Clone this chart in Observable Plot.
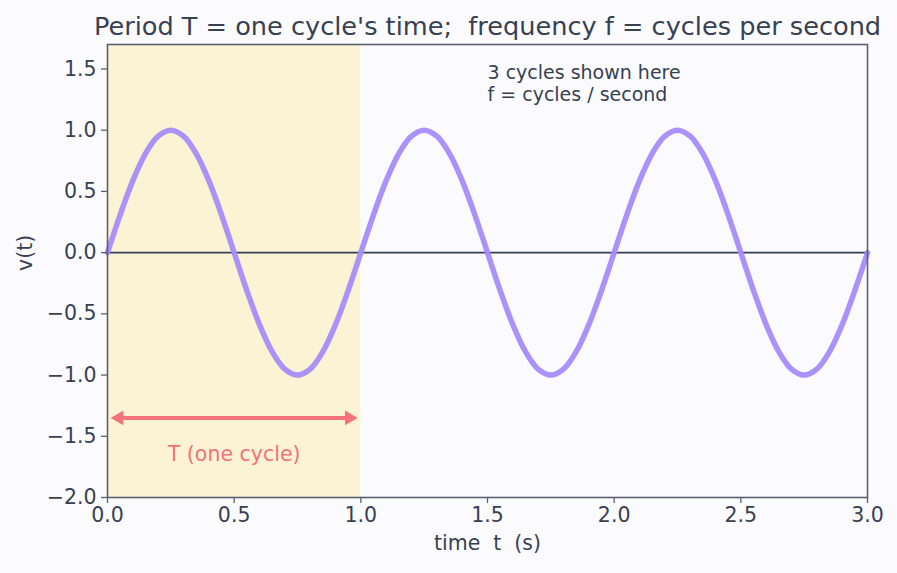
<!DOCTYPE html>
<html>
<head>
<meta charset="utf-8">
<script src="https://cdn.jsdelivr.net/npm/d3@7"></script>
<script src="https://cdn.jsdelivr.net/npm/@observablehq/plot@0.6"></script>
<style>
  html, body { margin: 0; padding: 0; background: #fbfbfe; }
  #chart { width: 897px; height: 573px; }
</style>
</head>
<body>
<div id="chart"></div>
<script>
const times = [0.00,0.05,0.10,0.15,0.20,0.25,0.30,0.35,0.40,0.45,0.50,0.55,0.60,0.65,0.70,0.75,0.80,0.85,0.90,0.95,
               1.00,1.05,1.10,1.15,1.20,1.25,1.30,1.35,1.40,1.45,1.50,1.55,1.60,1.65,1.70,1.75,1.80,1.85,1.90,1.95,
               2.00,2.05,2.10,2.15,2.20,2.25,2.30,2.35,2.40,2.45,2.50,2.55,2.60,2.65,2.70,2.75,2.80,2.85,2.90,2.95,3.00];
const volts = [0,0.309,0.588,0.809,0.951,1,0.951,0.809,0.588,0.309,0,-0.309,-0.588,-0.809,-0.951,-1,-0.951,-0.809,-0.588,-0.309,
               0,0.309,0.588,0.809,0.951,1,0.951,0.809,0.588,0.309,0,-0.309,-0.588,-0.809,-0.951,-1,-0.951,-0.809,-0.588,-0.309,
               0,0.309,0.588,0.809,0.951,1,0.951,0.809,0.588,0.309,0,-0.309,-0.588,-0.809,-0.951,-1,-0.951,-0.809,-0.588,-0.309,0];
const xTicks = [0, 0.5, 1.0, 1.5, 2.0, 2.5, 3.0];
const yTicks = [-2.0, -1.5, -1.0, -0.5, 0.0, 0.5, 1.0, 1.5];
const periodSpan = [0, 1];        // shaded one-period window
const arrowSpan = [0.02, 0.98];   // T arrow extent
const arrowY = -1.35;
const titleText = "Period T = one cycle's time;\u00a0 frequency f = cycles per second";
const noteText = "3 cycles shown here\nf = cycles / second";
const periodLabel = "T (one cycle)";
const xLabel = "time\u00a0 t\u00a0 (s)";
const yLabel = "v(t)";

const signal = times.map((t, i) => ({t, v: volts[i]}));
const fmt = d => (d < 0 ? "\u2212" : "") + Math.abs(d).toFixed(1);
const textColor = "#374151";
const axisColor = "#5b6170";
const arrowColor = "#f4727a";
const font = "DejaVu Sans, sans-serif";

const chart = Plot.plot({
  width: 897,
  height: 573,
  marginLeft: 107,
  marginRight: 30,
  marginTop: 44,
  marginBottom: 76,
  style: {background: "#fbfbfe", fontFamily: font, color: textColor, overflow: "visible"},
  x: {domain: [0, 3]},
  y: {domain: [-2, 1.7]},
  marks: [
    Plot.rectX([periodSpan], {x1: d => d[0], x2: d => d[1], y1: -2, y2: 1.7, fill: "#fcf3d4"}),
    Plot.ruleY([0], {stroke: "#334155", strokeWidth: 1.8}),
    Plot.line(signal, {x: "t", y: "v", curve: "catmull-rom", stroke: "#a78bfa", strokeWidth: 5.5, strokeOpacity: 0.95}),
    // double-headed arrow: shaft plus two filled heads
    Plot.ruleY([arrowY], {x1: arrowSpan[0], x2: arrowSpan[1], stroke: arrowColor, strokeWidth: 4, insetLeft: 8, insetRight: 8}),
    Plot.dot([arrowSpan[0]], {x: d => d, y: arrowY, symbol: "triangle2", r: 7, fill: arrowColor, rotate: -90, dx: 6.5}),
    Plot.dot([arrowSpan[1]], {x: d => d, y: arrowY, symbol: "triangle2", r: 7, fill: arrowColor, rotate: 90, dx: -6.5}),
    Plot.text([periodLabel], {x: 0.5, y: -1.65, text: d => d, fill: arrowColor, fontSize: 20.5, fontFamily: font}),
    Plot.text([noteText], {x: 1.5, y: 1.55, text: d => d, textAnchor: "start", lineAnchor: "top", fill: textColor, fontSize: 19, lineHeight: 1.16, fontFamily: font}),
    Plot.frame({stroke: axisColor, strokeWidth: 1.6}),
    Plot.axisX({ticks: xTicks, tickFormat: fmt, tickSize: 6, tickPadding: 4, stroke: axisColor, strokeWidth: 1.3, fontSize: 20.5, label: null, fill: textColor}),
    Plot.axisY({ticks: yTicks, tickFormat: fmt, tickSize: 6, tickPadding: 5, stroke: axisColor, strokeWidth: 1.3, fontSize: 20.5, label: null, fill: textColor}),
    Plot.text([titleText], {frameAnchor: "top", dy: -28, text: d => d, fontSize: 25.6, fill: textColor, fontFamily: font}),
    Plot.text([xLabel], {frameAnchor: "bottom", dy: 52, text: d => d, fontSize: 20.5, fill: textColor, fontFamily: font}),
    Plot.text([yLabel], {frameAnchor: "left", dx: -82, rotate: -90, text: d => d, fontSize: 20.5, fill: textColor, fontFamily: font})
  ]
});
document.getElementById("chart").appendChild(chart);
</script>
</body>
</html>
